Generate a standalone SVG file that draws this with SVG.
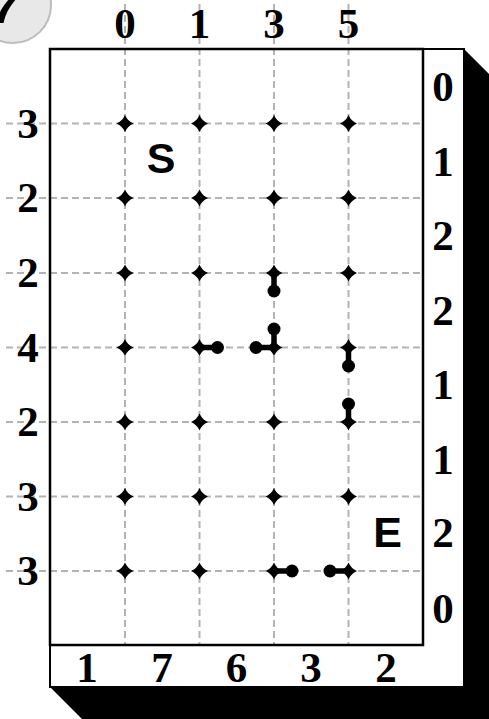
<svg xmlns="http://www.w3.org/2000/svg" width="489" height="719" viewBox="0 0 489 719">
<defs>
<style>
.grid{stroke:#b3b3b3;stroke-width:2;stroke-dasharray:7 4;fill:none}
.num{font-family:"Liberation Serif","Times New Roman",serif;font-weight:bold;font-size:43px;text-anchor:middle;fill:#000}
.big{font-family:"Liberation Sans",Arial,sans-serif;font-weight:bold;font-size:43px;text-anchor:middle;fill:#000}
.stub{stroke:#000;stroke-width:5.5;stroke-linecap:butt}
</style>
<path id="star" d="M0,-8.5 Q2.5,-2.5 8.5,0 Q2.5,2.5 0,8.5 Q-2.5,2.5 -8.5,0 Q-2.5,-2.5 0,-8.5Z" fill="#000"/>
</defs>
<rect width="489" height="719" fill="#fff"/>
<!-- shadow -->
<polygon points="464,49 500,85 500,740 103,740 50,687" fill="#000"/>
<!-- outer box -->
<rect x="50" y="49" width="414" height="638" fill="#fff" stroke="#000" stroke-width="2"/>
<!-- corner circle -->
<g id="badge">
<circle cx="13" cy="5" r="38" fill="#e8e8e8" stroke="#bdbdbd" stroke-width="2"/>
<text x="6" y="23" font-family="Liberation Sans,Arial,sans-serif" font-weight="bold" font-style="italic" font-size="50" text-anchor="middle">7</text>
</g>
<!-- grid lines -->
<g id="grid">
<line class="grid" x1="125" y1="4" x2="125" y2="645"/>
<line class="grid" x1="199.5" y1="4" x2="199.5" y2="645"/>
<line class="grid" x1="274" y1="4" x2="274" y2="645"/>
<line class="grid" x1="348.5" y1="4" x2="348.5" y2="645"/>
<line class="grid" x1="6" y1="123.5" x2="423" y2="123.5"/>
<line class="grid" x1="6" y1="198" x2="423" y2="198"/>
<line class="grid" x1="6" y1="273" x2="423" y2="273"/>
<line class="grid" x1="6" y1="347.5" x2="423" y2="347.5"/>
<line class="grid" x1="6" y1="422" x2="423" y2="422"/>
<line class="grid" x1="6" y1="496.5" x2="423" y2="496.5"/>
<line class="grid" x1="6" y1="571" x2="423" y2="571"/>
</g>
<!-- inner box -->
<rect x="50" y="49" width="373" height="596" fill="none" stroke="#000" stroke-width="2.5"/>
<!-- labels -->
<g id="top-labels">
<text class="num" x="125" y="38">0</text>
<text class="num" x="199.5" y="38">1</text>
<text class="num" x="274" y="38">3</text>
<text class="num" x="348.5" y="38">5</text>
</g>
<g id="left-labels">
<text class="num" x="28" y="137.5">3</text>
<text class="num" x="28" y="212">2</text>
<text class="num" x="28" y="287">2</text>
<text class="num" x="28" y="361.5">4</text>
<text class="num" x="28" y="436">2</text>
<text class="num" x="28" y="510.5">3</text>
<text class="num" x="28" y="585">3</text>
</g>
<g id="right-labels">
<text class="num" x="443" y="101">0</text>
<text class="num" x="443" y="176">1</text>
<text class="num" x="443" y="250">2</text>
<text class="num" x="443" y="325">2</text>
<text class="num" x="443" y="399">1</text>
<text class="num" x="443" y="474">1</text>
<text class="num" x="443" y="547">2</text>
<text class="num" x="443" y="623">0</text>
</g>
<g id="bottom-labels">
<text class="num" x="87" y="682">1</text>
<text class="num" x="162" y="682">7</text>
<text class="num" x="236.5" y="682">6</text>
<text class="num" x="311" y="682">3</text>
<text class="num" x="386" y="682">2</text>
</g>
<!-- connectors (stubs) -->
<g id="connectors">
<line class="stub" x1="274" y1="273" x2="274" y2="291"/><circle cx="274" cy="291" r="6.5"/>
<line class="stub" x1="274" y1="347.5" x2="274" y2="329"/><circle cx="274" cy="329" r="6.5"/>
<line class="stub" x1="274" y1="347.5" x2="256" y2="347.5"/><circle cx="256" cy="347.5" r="6.5"/>
<line class="stub" x1="199.5" y1="347.5" x2="217.5" y2="347.5"/><circle cx="217.5" cy="347.5" r="6.5"/>
<line class="stub" x1="348.5" y1="347.5" x2="348.5" y2="366"/><circle cx="348.5" cy="366" r="6.5"/>
<line class="stub" x1="348.5" y1="422" x2="348.5" y2="404"/><circle cx="348.5" cy="404" r="6.5"/>
<line class="stub" x1="274" y1="571" x2="292" y2="571"/><circle cx="292" cy="571" r="6.5"/>
<line class="stub" x1="348.5" y1="571" x2="330" y2="571"/><circle cx="330" cy="571" r="6.5"/>
</g>
<!-- nodes -->
<g id="nodes">
<g id="n-r0"><use href="#star" x="125" y="123.5"/><use href="#star" x="199.5" y="123.5"/><use href="#star" x="274" y="123.5"/><use href="#star" x="348.5" y="123.5"/></g>
<g id="n-r1"><use href="#star" x="125" y="198"/><use href="#star" x="199.5" y="198"/><use href="#star" x="274" y="198"/><use href="#star" x="348.5" y="198"/></g>
<g id="n-r2"><use href="#star" x="125" y="273"/><use href="#star" x="199.5" y="273"/><use href="#star" x="274" y="273"/><use href="#star" x="348.5" y="273"/></g>
<g id="n-r3"><use href="#star" x="125" y="347.5"/><use href="#star" x="199.5" y="347.5"/><use href="#star" x="274" y="347.5"/><use href="#star" x="348.5" y="347.5"/></g>
<g id="n-r4"><use href="#star" x="125" y="422"/><use href="#star" x="199.5" y="422"/><use href="#star" x="274" y="422"/><use href="#star" x="348.5" y="422"/></g>
<g id="n-r5"><use href="#star" x="125" y="496.5"/><use href="#star" x="199.5" y="496.5"/><use href="#star" x="274" y="496.5"/><use href="#star" x="348.5" y="496.5"/></g>
<g id="n-r6"><use href="#star" x="125" y="571"/><use href="#star" x="199.5" y="571"/><use href="#star" x="274" y="571"/><use href="#star" x="348.5" y="571"/></g>
</g>
<g id="start"><text class="big" x="161" y="173">S</text></g>
<g id="end"><text class="big" x="387.5" y="547">E</text></g>
</svg>
